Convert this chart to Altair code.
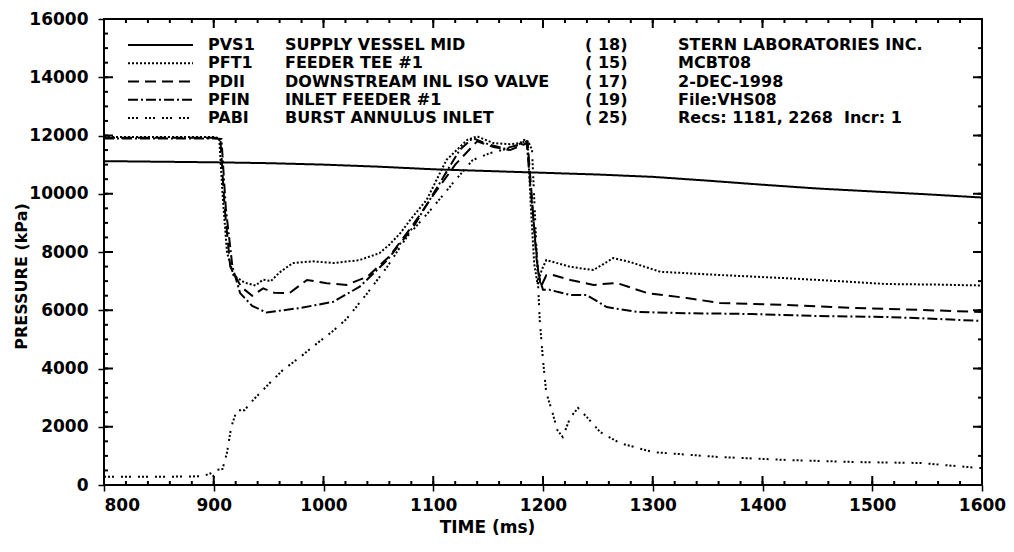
import altair as alt
import pandas as pd

# ---------------- data ----------------
codes = ["PVS1", "PFT1", "PDII", "PFIN", "PABI"]
descs = ["SUPPLY VESSEL MID", "FEEDER TEE #1", "DOWNSTREAM INL ISO VALVE",
         "INLET FEEDER #1", "BURST ANNULUS INLET"]
chans = ["( 18)", "( 15)", "( 17)", "( 19)", "( 25)"]
info = ["STERN LABORATORIES INC.", "MCBT08", "\u00a02-DEC-1998", "File:VHS08",
        "Recs: 1181, 2268\u00a0 Incr: 1"]

pvs1_t = [800, 850, 900, 950, 1000, 1050, 1100, 1150, 1200, 1250, 1300, 1350,
          1400, 1450, 1500, 1550, 1600]
pvs1_p = [11120, 11100, 11080, 11050, 11000, 10930, 10840, 10780, 10720, 10660,
          10580, 10450, 10310, 10180, 10080, 9980, 9870]

pft1_t = [800, 900, 905, 908, 912, 918, 928, 938, 945, 952, 960, 972, 990, 1010,
          1033, 1051, 1060, 1070, 1080, 1094, 1112, 1131, 1140, 1155, 1170, 1179,
          1183, 1186, 1189, 1192, 1195, 1199, 1203, 1210, 1225, 1246, 1264, 1279,
          1307, 1361, 1422, 1483, 1513, 1560, 1600]
pft1_p = [11950, 11950, 11900, 10000, 8000, 7200, 6950, 6850, 7050, 7000, 7300,
          7620, 7680, 7620, 7725, 7960, 8250, 8650, 9150, 9790, 11160, 11850,
          11970, 11740, 11700, 11740, 11850, 11800, 9500, 7600, 6900, 7400, 7725,
          7650, 7490, 7380, 7790, 7660, 7320, 7210, 7100, 6970, 6900, 6880, 6850]

pdii_t = [800, 900, 906, 910, 915, 925, 935, 945, 955, 969, 985, 1003, 1021, 1040,
          1060, 1080, 1100, 1120, 1140, 1155, 1170, 1183, 1186, 1190, 1194, 1198,
          1203, 1209, 1225, 1246, 1267, 1295, 1331, 1361, 1422, 1483, 1544, 1600]
pdii_p = [11920, 11920, 11900, 9500, 7500, 6800, 6500, 6750, 6600, 6590, 7040,
          6930, 6870, 7150, 7850, 8850, 9950, 11000, 11800, 11600, 11500, 11700,
          11750, 9800, 7800, 6800, 7200, 7210, 7040, 6870, 6940, 6590, 6420, 6250,
          6180, 6080, 6010, 5940]

pfin_t = [800, 900, 907, 911, 917, 924, 935, 948, 979, 1009, 1033, 1058, 1082,
          1106, 1124, 1136, 1150, 1165, 1180, 1185, 1188, 1192, 1196, 1200, 1206,
          1225, 1240, 1258, 1286, 1331, 1391, 1452, 1513, 1560, 1600]
pfin_p = [11900, 11900, 11880, 9500, 7500, 6590, 6150, 5920, 6080, 6290, 6810,
          7720, 8870, 10370, 11500, 11910, 11700, 11550, 11700, 11800, 10500, 8800,
          7200, 6700, 6700, 6520, 6520, 6110, 5940, 5900, 5870, 5800, 5770, 5700,
          5630]

pabi_t = [800, 850, 890, 897, 900, 903, 908, 912, 916, 921, 928, 936, 951, 963,
          979, 994, 1009, 1021, 1040, 1058, 1076, 1100, 1118, 1136, 1152, 1173,
          1186, 1190, 1197, 1200, 1203, 1208, 1213, 1218, 1225, 1232, 1240, 1252,
          1270, 1300, 1361, 1422, 1483, 1544, 1592, 1600]
pabi_p = [280, 280, 300, 400, 300, 520, 550, 1100, 2000, 2570, 2570, 2920, 3500,
          3950, 4400, 4860, 5300, 5700, 6590, 7490, 8520, 9550, 10370, 11160,
          11400, 11600, 11850, 11500, 5670, 4290, 3160, 2570, 1890, 1650, 2330,
          2640, 2330, 1820, 1440, 1130, 960, 860, 790, 755, 600, 580]

x_major = list(range(800, 1601, 100))
x_minor = list(range(800, 1601, 20))
y_major = list(range(0, 16001, 2000))
y_minor = list(range(0, 16001, 500))
y_minor_r = list(range(0, 16001, 1000))

# ---------------- build tables ----------------
series = {"PVS1": (pvs1_t, pvs1_p), "PFT1": (pft1_t, pft1_p),
          "PDII": (pdii_t, pdii_p), "PFIN": (pfin_t, pfin_p),
          "PABI": (pabi_t, pabi_p)}
rows = []
for c in codes:
    ts, ps = series[c]
    for a, b in zip(ts, ps):
        rows.append({"code": c, "t": a, "p": b})
df = pd.DataFrame(rows)

leg_df = pd.DataFrame({"code": codes, "desc": descs, "chan": chans,
                       "info": info, "row": list(range(len(codes)))})

# ---------------- styling ----------------
W, H = 878, 466
FONT = "DejaVu Sans"
dashes = [[1, 0], [2, 2], [11, 6], [10, 3, 2, 3], [2, 2, 2, 2, 2, 7]]

x_scale = alt.Scale(domain=[800, 1600], nice=False, zero=False)
y_scale = alt.Scale(domain=[0, 16000], nice=False)
dash_scale = alt.Scale(domain=codes, range=dashes)

x_axis = alt.Axis(values=x_major, title="TIME (ms)", format="d",
                  grid=False, domain=False, ticks=True, tickSize=6,
                  tickColor="black", tickWidth=1.5,
                  labelPadding=6, labelFontSize=17, labelFont=FONT,
                  labelFontWeight="bold", labelColor="black",
                  labelAlign=alt.expr("datum.value == 800 ? 'left' : 'center'"),
                  titleFont=FONT, titleFontSize=17, titleFontWeight="bold",
                  titleColor="black", titleX=383, titleY=42,
                  titleBaseline="middle", titleAlign="center")
y_axis = alt.Axis(values=y_major, title="PRESSURE (kPa)", format="d",
                  grid=False, domain=False, ticks=True, tickSize=6,
                  tickColor="black", tickWidth=1.5,
                  labelPadding=10, labelFontSize=17, labelFont=FONT,
                  labelFontWeight="bold", labelColor="black",
                  titleFont=FONT, titleFontSize=16, titleFontWeight="bold",
                  titleColor="black", titleX=-83, titleY=257, titleAngle=-90,
                  titleBaseline="middle", titleAlign="center")

X = alt.X("t:Q", scale=x_scale, axis=x_axis)
Y = alt.Y("p:Q", scale=y_scale, axis=y_axis)

lines = alt.Chart(df).mark_line(color="black", strokeWidth=2).encode(
    x=X, y=Y,
    strokeDash=alt.StrokeDash("code:N", scale=dash_scale, legend=None),
)

xmaj = pd.DataFrame({"t": x_major})
xmin = pd.DataFrame({"t": x_minor})
ymaj = pd.DataFrame({"p": y_major})
ymin = pd.DataFrame({"p": y_minor})
yminr = pd.DataFrame({"p": y_minor_r})


def vt(data, y, y2):
    return alt.Chart(data).mark_rule(color="black", strokeWidth=2).encode(
        x=X, y=alt.value(y), y2=alt.value(y2))


def ht(data, x, x2):
    return alt.Chart(data).mark_rule(color="black", strokeWidth=2).encode(
        y=Y, x=alt.value(x), x2=alt.value(x2))


ticks = [
    vt(xmaj, H - 9, H), vt(xmin, H - 4, H),
    vt(xmaj, 0, 9), vt(xmin, 0, 4),
    ht(ymaj, 0, 9), ht(ymin, 0, 4),
    ht(ymaj, W - 9, W), ht(yminr, W - 4, W),
]

# legend block: one row per series, laid out in pixels inside the plot
ROW0, ROWSTEP = 26, 18.25
txt = dict(align="left", baseline="middle", font=FONT, fontWeight="bold",
           fontSize=16, color="black")
legend_layers = []
for i in range(len(codes)):
    yi = ROW0 + ROWSTEP * i
    base = alt.Chart(leg_df).transform_filter(alt.datum.row == i)
    legend_layers += [
        base.mark_rule(color="black", strokeWidth=2).encode(
            x=alt.value(24), x2=alt.value(89), y=alt.value(yi),
            strokeDash=alt.StrokeDash("code:N", scale=dash_scale, legend=None)),
        base.mark_text(**txt).encode(x=alt.value(104), y=alt.value(yi), text="code:N"),
        base.mark_text(**txt).encode(x=alt.value(181), y=alt.value(yi), text="desc:N"),
        base.mark_text(**txt).encode(x=alt.value(481), y=alt.value(yi), text="chan:N"),
        base.mark_text(**txt).encode(x=alt.value(574), y=alt.value(yi), text="info:N"),
    ]

chart = alt.layer(lines, *ticks, *legend_layers).properties(
    width=W, height=H,
    autosize=alt.AutoSizeParams(type="none"),
    padding={"left": 96, "top": 11, "right": 24, "bottom": 59},
    background="white",
).configure_view(stroke="black", strokeWidth=2)

chart.save("out.html", embed_options={"renderer": "svg", "actions": False})
